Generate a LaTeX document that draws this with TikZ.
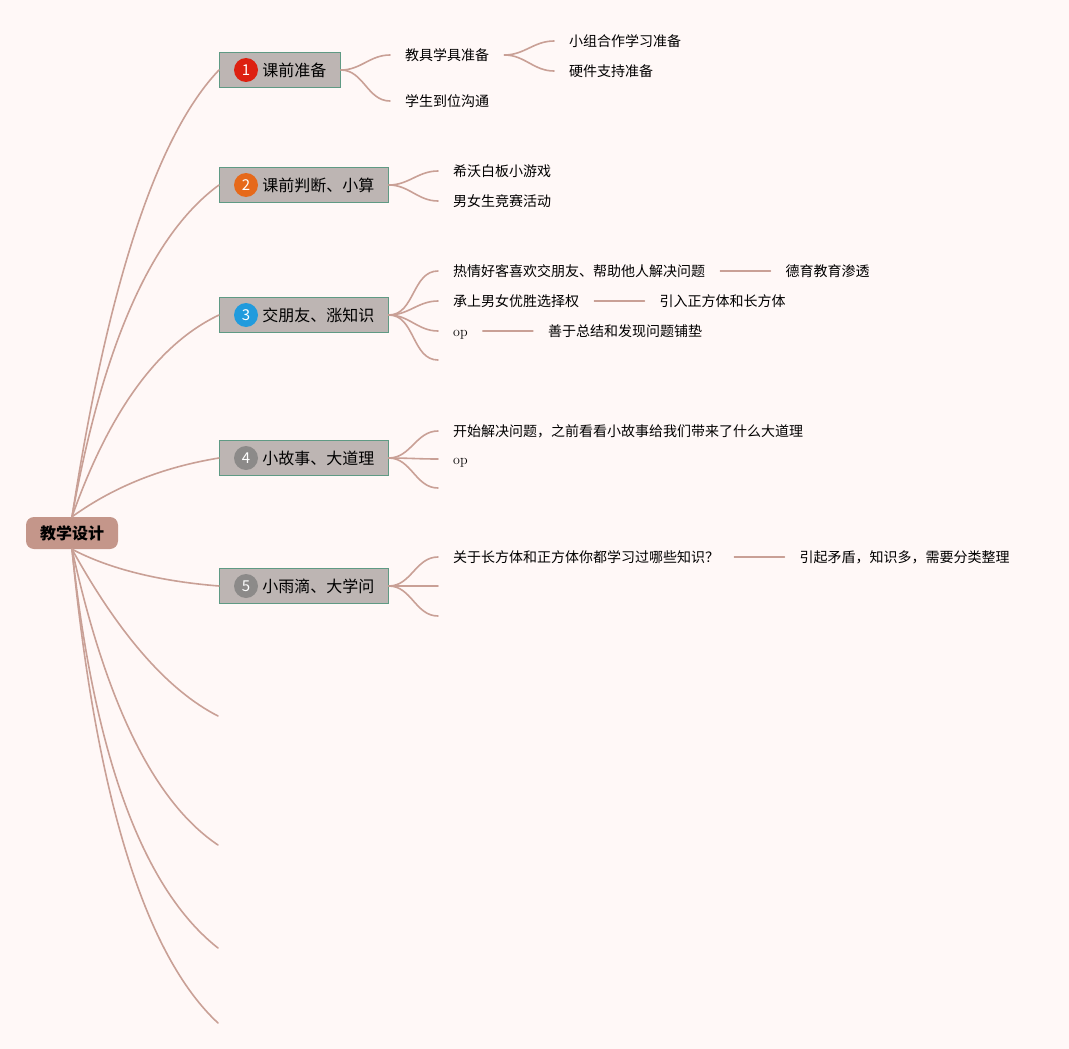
\documentclass[tikz,border=0pt]{standalone}
\usepackage{fontspec}
\newfontfamily\cjk{Noto Sans CJK SC}
\usetikzlibrary{positioning}
\definecolor{bgpink}{HTML}{FFF8F7}
\definecolor{linebrown}{HTML}{C9A096}
\definecolor{rootfill}{HTML}{C4968A}
\definecolor{boxfill}{HTML}{BDB5B3}
\definecolor{boxline}{HTML}{5F9A84}
\definecolor{numred}{HTML}{DD2010}
\definecolor{numorange}{HTML}{E6691A}
\definecolor{numblue}{HTML}{219BDD}
\definecolor{numgrey}{HTML}{8C8A89}
\tikzset{
  rootbox/.style={fill=rootfill, rounded corners=8pt, minimum width=92pt, minimum height=32pt, font=\cjk\bfseries\fontsize{16}{16}\selectfont},
  topic/.style={draw=boxline, line width=0.9pt, fill=boxfill, anchor=west, minimum height=35pt, inner ysep=0pt, inner xsep=14pt, execute at begin node=\hspace*{29pt}, font=\cjk\fontsize{16}{16}\selectfont},
  num/.style={circle, inner sep=0pt, minimum size=24pt, text=white, font=\cjk\fontsize{15}{15}\selectfont},
  sub/.style={anchor=west, inner xsep=15pt, inner ysep=2pt, font=\cjk\fontsize{14}{14}\selectfont},
  latin/.style={font=\rmfamily\fontsize{14}{14}\selectfont, text height=12.3pt, text depth=1.7pt},
  trunk/.style={draw=linebrown, line width=1.6pt, line cap=round},
  twig/.style={draw=linebrown, line width=1.6pt, line cap=round},
}
\begin{document}
\begin{tikzpicture}[x=1pt, y=1pt]
	\fill[bgpink] (0,0) rectangle (1069,-1049);
	% root and main topics
	\node[rootbox] (root) at (72,-533) {教学设计};
	\node[topic] (b1) at (219,-70) {课前准备};
	\node[topic] (b2) at (219,-185) {课前判断、小算};
	\node[topic] (b3) at (219,-315) {交朋友、涨知识};
	\node[topic] (b4) at (219,-458) {小故事、大道理};
	\node[topic] (b5) at (219,-586) {小雨滴、大学问};
	\node[num, fill=numred] (n1) at (246,-70) {1};
	\node[num, fill=numorange] (n2) at (246,-185) {2};
	\node[num, fill=numblue] (n3) at (246,-315) {3};
	\node[num, fill=numgrey] (n4) at (246,-458) {4};
	\node[num, fill=numgrey] (n5) at (246,-586) {5};
	\coordinate (e6) at (218,-716);
	\coordinate (e7) at (218,-845);
	\coordinate (e8) at (218,-948);
	\coordinate (e9) at (218,-1023);
	\foreach \n/\a/\b/\c/\d in {b1/36/233/-62/-65, b2/31/173/-67/-49, b3/37/105/-61/-29, b4/43/31/-55/-9}
		\draw[trunk] (root.north) .. controls +(\a,\b) and +(\c,\d) .. (\n.west);
	\draw[trunk] (root.south) .. controls +(36,-19) and +(-62,5) .. (b5.west);
	\foreach \n/\a/\b/\c/\d in {e6/48/-87/-49/25, e7/34/-154/-64/43, e8/22/-207/-75/59, e9/24/-248/-73/68}
		\draw[trunk] (root.south) .. controls +(\a,\b) and +(\c,\d) .. (\n);
	% topic 1
	\node[sub] (k1) at (390,-55) {教具学具准备};
	\node[sub] (k2) at (390,-101) {学生到位沟通};
	\node[sub] (k11) at (554,-41) {小组合作学习准备};
	\node[sub] (k12) at (554,-71) {硬件支持准备};
	\foreach \s in {k1,k2} \draw[twig] (b1.east) to[out=0, in=180] (\s.west);
	\foreach \s in {k11,k12} \draw[twig] (k1.east) to[out=0, in=180] (\s.west);
	% topic 2
	\node[sub] (p1) at (438,-171) {希沃白板小游戏};
	\node[sub] (p2) at (438,-201) {男女生竞赛活动};
	\foreach \s in {p1,p2} \draw[twig] (b2.east) to[out=0, in=180] (\s.west);
	% topic 3
	\node[sub] (f1) at (438,-271) {热情好客喜欢交朋友、帮助他人解决问题};
	\node[sub] (f2) at (438,-301) {承上男女优胜选择权};
	\node[sub, latin] (f3) at (438,-331) {op};
	\coordinate (f4) at (438,-360);
	\node[sub, right=50pt of f1] (f11) {德育教育渗透};
	\node[sub, right=50pt of f2] (f21) {引入正方体和长方体};
	\node[sub, right=50pt of f3] (f31) {善于总结和发现问题铺垫};
	\foreach \s in {f1,f2,f3} \draw[twig] (b3.east) to[out=0, in=180] (\s.west);
	\draw[twig] (b3.east) to[out=0, in=180] (f4);
	\foreach \s in {f1,f2,f3} \draw[twig] (\s.east) -- (\s1.west);
	% topic 4
	\node[sub] (g1) at (438,-431) {开始解决问题，之前看看小故事给我们带来了什么大道理};
	\node[sub, latin] (g2) at (438,-459) {op};
	\coordinate (g3) at (438,-488);
	\foreach \s in {g1,g2} \draw[twig] (b4.east) to[out=0, in=180] (\s.west);
	\draw[twig] (b4.east) to[out=0, in=180] (g3);
	% topic 5
	\node[sub] (h1) at (438,-557) {关于长方体和正方体你都学习过哪些知识？};
	\coordinate (h2) at (438,-586);
	\coordinate (h3) at (438,-616);
	\node[sub, right=50pt of h1] (h11) {引起矛盾，知识多，需要分类整理};
	\draw[twig] (b5.east) to[out=0, in=180] (h1.west);
	\foreach \s in {h2,h3} \draw[twig] (b5.east) to[out=0, in=180] (\s);
	\draw[twig] (h1.east) -- (h11.west);
\end{tikzpicture}
\end{document}
